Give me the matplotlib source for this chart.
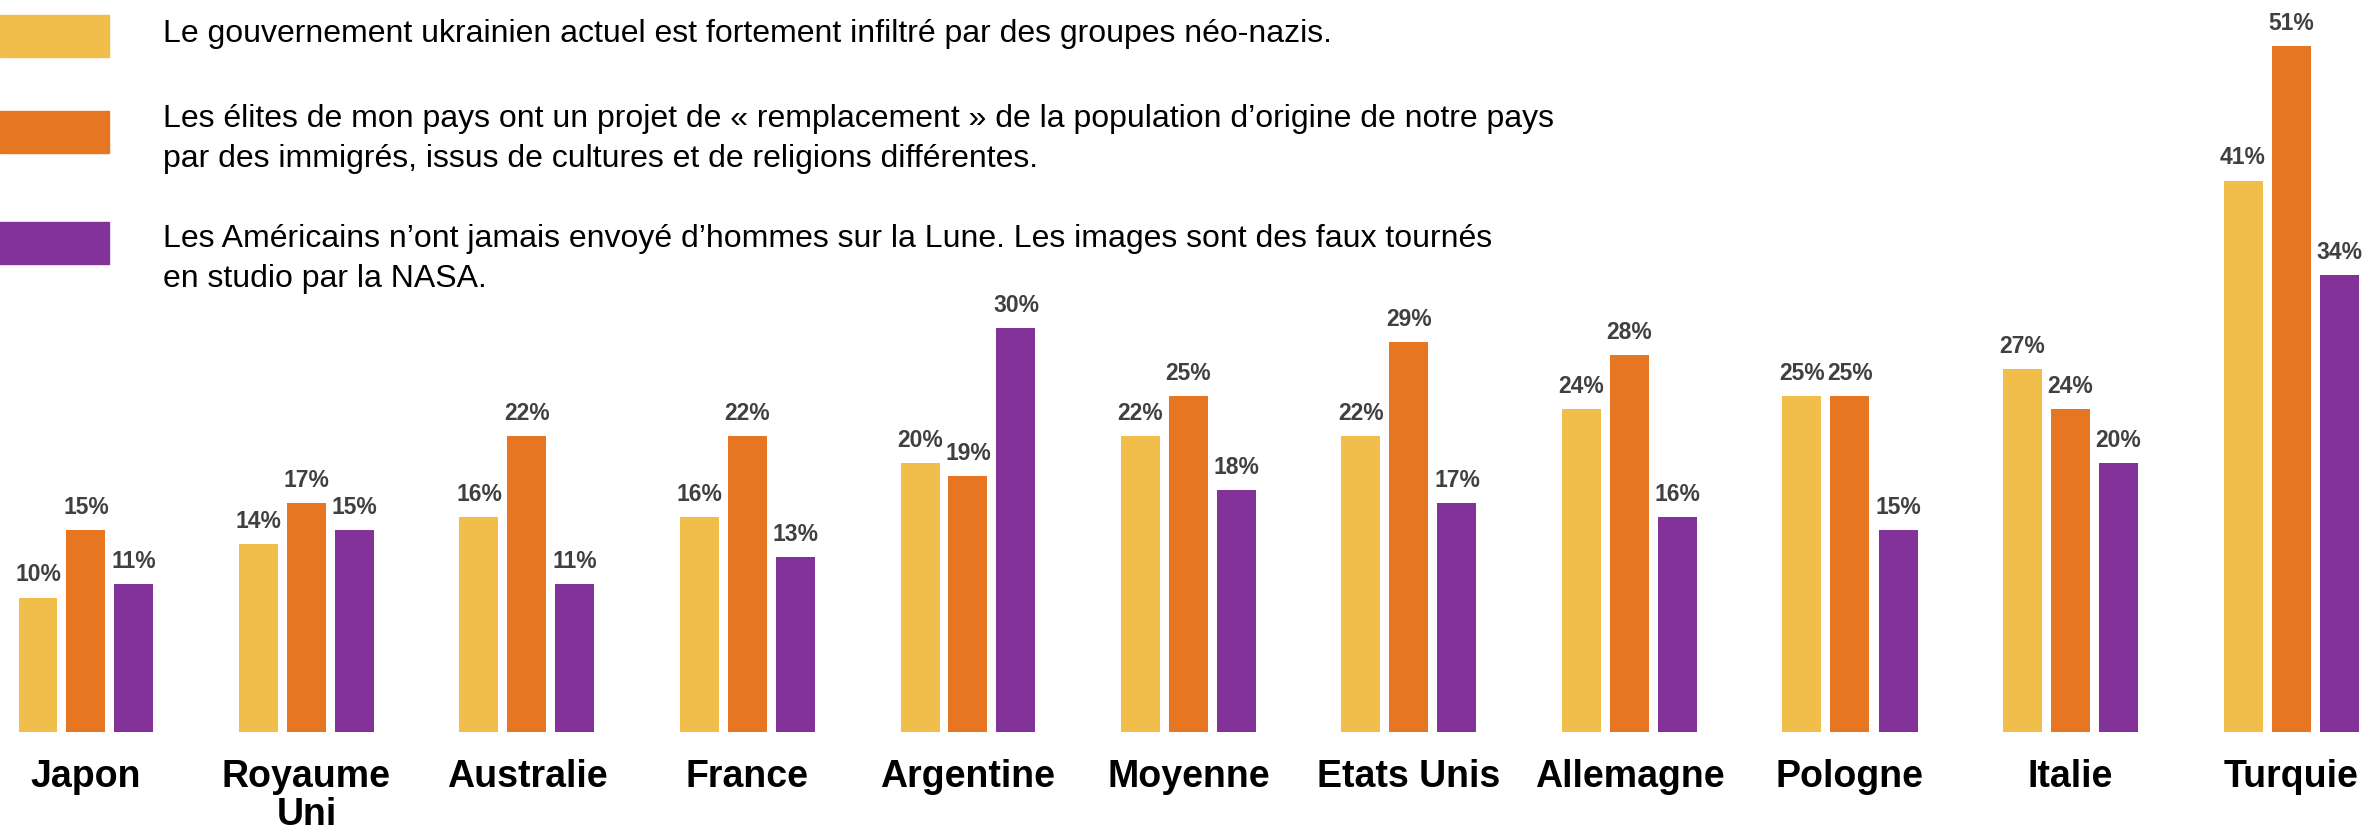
import matplotlib
matplotlib.use("Agg")
import matplotlib.pyplot as plt
from matplotlib.patches import Rectangle
import numpy as np

plt.rcParams['font.family'] = ['Liberation Sans', 'DejaVu Sans']

countries = ['Japon', 'Royaume\nUni', 'Australie', 'France', 'Argentine', 'Moyenne',
             'Etats Unis', 'Allemagne', 'Pologne', 'Italie', 'Turquie']
ukraine = [10, 14, 16, 16, 20, 22, 22, 24, 25, 27, 41]
remplacement = [15, 17, 22, 22, 19, 25, 29, 28, 25, 24, 51]
lune = [11, 15, 11, 13, 30, 18, 17, 16, 15, 20, 34]

legend_labels = [
    "Le gouvernement ukrainien actuel est fortement infiltré par des groupes néo-nazis.",
    "Les élites de mon pays ont un projet de « remplacement » de la population d\u2019origine de notre pays\npar des immigrés, issus de cultures et de religions différentes.",
    "Les Américains n\u2019ont jamais envoyé d\u2019hommes sur la Lune. Les images sont des faux tournés\nen studio par la NASA.",
]
colors = ['#F1BE4B', '#E77622', '#823298']

W, H = 2366, 832
fig = plt.figure(figsize=(W / 100, H / 100), dpi=100)

# axes: baseline at 732 px from top, group spacing 220.5 px, first group at 86 px
base_px = 732
ax = fig.add_axes([0, (H - base_px) / H, 1, base_px / H])
step = 220.5
ax.set_xlim(-86 / step, (W - 86) / step)
ax.set_ylim(0, base_px / 13.45)
ax.set_axis_off()

x = np.arange(len(countries))
bw = 39 / step
off = 48 / step
series = [ukraine, remplacement, lune]
for i, (vals, c) in enumerate(zip(series, colors)):
    xs = x + (i - 1) * off
    ax.bar(xs, vals, width=bw, color=c, edgecolor='none')
    for xi, v in zip(xs, vals):
        ax.annotate(f"{v}%", (xi, v), xytext=(0, 8), textcoords='offset points',
                    ha='center', va='bottom', fontsize=16.5, fontweight='bold',
                    color='#404040')

for xi, name in zip(x, countries):
    ax.text(xi, -27 / 13.45, name, ha='center', va='top', fontsize=27,
            fontweight='bold', color='black', linespacing=1.08)

# legend drawn by hand at top-left
sq_y = [36, 132, 243]
txt_y = [34, 139, 259]
for c, sy, ty, lab in zip(colors, sq_y, txt_y, legend_labels):
    fig.patches.append(Rectangle((0, (H - sy - 21) / H), 109 / W, 42 / H,
                                 transform=fig.transFigure, color=c))
    fig.text(163 / W, (H - ty) / H, lab, ha='left', va='center', fontsize=23,
             color='black', linespacing=1.43)

fig.savefig('out.png', dpi=100)
